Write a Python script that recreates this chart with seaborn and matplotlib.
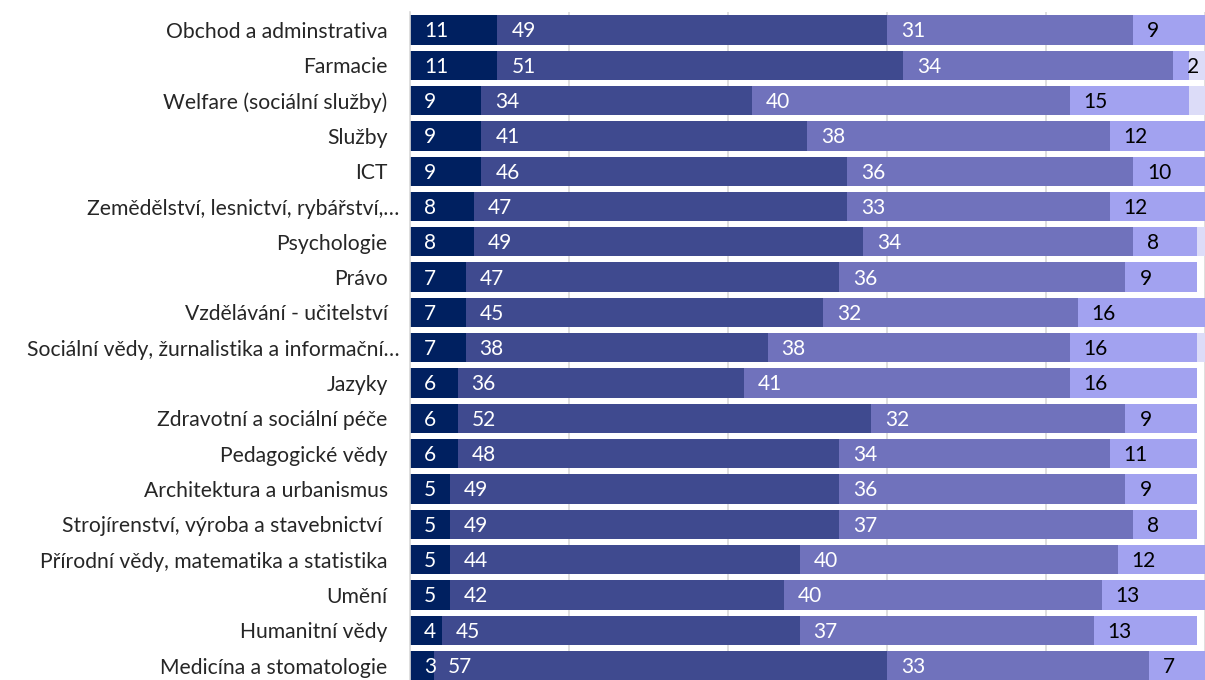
import matplotlib.pyplot as plt
import matplotlib.transforms as mtrans
import numpy as np
import pandas as pd
import seaborn as sns

obory = [
    "Obchod a adminstrativa",
    "Farmacie",
    "Welfare (sociální služby)",
    "Služby",
    "ICT",
    "Zemědělství, lesnictví, rybářství,…",
    "Psychologie",
    "Právo",
    "Vzdělávání - učitelství",
    "Sociální vědy, žurnalistika a informační…",
    "Jazyky",
    "Zdravotní a sociální péče",
    "Pedagogické vědy",
    "Architektura a urbanismus",
    "Strojírenství, výroba a stavebnictví ",
    "Přírodní vědy, matematika a statistika",
    "Umění",
    "Humanitní vědy",
    "Medicína a stomatologie",
]

s1 = [11, 11, 9, 9, 9, 8, 8, 7, 7, 7, 6, 6, 6, 5, 5, 5, 5, 4, 3]
s2 = [49, 51, 34, 41, 46, 47, 49, 47, 45, 38, 36, 52, 48, 49, 49, 44, 42, 45, 57]
s3 = [31, 34, 40, 38, 36, 33, 34, 36, 32, 38, 41, 32, 34, 36, 37, 40, 40, 37, 33]
s4 = [9, 2, 15, 12, 10, 12, 8, 9, 16, 16, 16, 9, 11, 9, 8, 12, 13, 13, 7]
s5 = [0, 2, 2, 0, 0, 0, 1, 0, 0, 1, 0, 0, 0, 0, 0, 0, 0, 0, 0]

barvy = ["#002060", "#3F4A8F", "#7072BC", "#A2A2F0", "#DCDCF8"]
barvy_textu = ["white", "white", "white", "black", "black"]

sns.set_theme(style="white")
plt.rcParams["font.family"] = ["Lato", "DejaVu Sans"]

df = pd.DataFrame({"obor": obory, "s1": s1, "s2": s2, "s3": s3, "s4": s4, "s5": s5})
serie = ["s1", "s2", "s3", "s4", "s5"]
kum = df[serie].cumsum(axis=1)

fig = plt.figure(figsize=(12.05, 6.8), dpi=100)
ax = fig.add_axes([0.3402, 0.0, 0.6598, 0.9824])

# stacked look: draw cumulative totals from the longest to the shortest
for i in range(len(serie) - 1, -1, -1):
    sns.barplot(x=kum[serie[i]], y=df["obor"], color=barvy[i], orient="h",
                width=0.83, saturation=1, linewidth=0, edgecolor="none", ax=ax)

# value labels, placed near the start of each segment
for i, s in enumerate(serie):
    zacatek = kum[s] - df[s]
    for j, v in enumerate(df[s]):
        if v == 0 or i == 4:
            continue
        ax.text(zacatek[j] + 1.75, j + 0.21, str(v), ha="left", va="baseline",
                color=barvy_textu[i], fontsize=15, zorder=3, clip_on=True)

ax.set_xlim(0, 99.6)
ax.set_ylim(18.41, -0.51)
ax.set_xlabel("")
ax.set_ylabel("")
ax.set_xticks([0, 20, 40, 60, 80, 100])
ax.set_xticklabels([])
ax.tick_params(axis="x", length=0)
ax.grid(axis="x", color="#D9D9D9", linewidth=1.2)
ax.set_axisbelow(True)
ax.tick_params(axis="y", length=0, pad=16, labelsize=15.2)
for sp in ["top", "right", "bottom"]:
    ax.spines[sp].set_visible(False)
ax.spines["left"].set_color("#D9D9D9")
ax.spines["left"].set_linewidth(1.2)

# truncated long names sit a little closer to the axis
for lab in ax.get_yticklabels():
    if lab.get_text().endswith("…"):
        lab.set_transform(lab.get_transform() + mtrans.ScaledTranslation(0.12, 0, fig.dpi_scale_trans))

fig.savefig("out.png", dpi=100)
